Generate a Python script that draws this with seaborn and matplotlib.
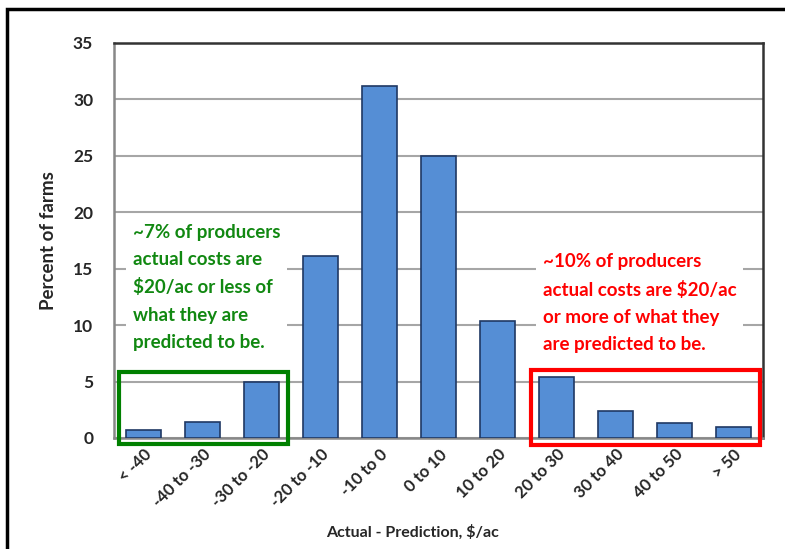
import matplotlib
matplotlib.use("Agg")
import matplotlib.pyplot as plt
import matplotlib.patches as mpatches
import seaborn as sns
import pandas as pd

# Distribution of (actual - predicted) cost per acre
categories = ["< -40", "-40 to -30", "-30 to -20", "-20 to -10", "-10 to 0",
              "0 to 10", "10 to 20", "20 to 30", "30 to 40", "40 to 50", "> 50"]
percent_farms = [0.7, 1.4, 5.0, 16.1, 31.2, 25.0, 10.4, 5.4, 2.4, 1.3, 1.0]
y_ticks = [0, 5, 10, 15, 20, 25, 30, 35]

low_note = "~7% of producers\nactual costs are\n$20/ac or less of\nwhat they are\npredicted to be."
high_note = "~10% of producers\nactual costs are $20/ac\nor more of what they\nare predicted to be."

sns.set_style("white")
plt.rcParams["font.family"] = ["Lato", "DejaVu Sans"]

df = pd.DataFrame({"range": categories, "pct": percent_farms})

fig = plt.figure(figsize=(7.85, 5.49), dpi=100)
ax = fig.add_axes([0.1452, 0.2022, 0.8268, 0.7195])

sns.barplot(data=df, x="range", y="pct", order=categories, color="#558ED5",
            saturation=1, width=0.6, edgecolor="#1F3864", linewidth=1.2, ax=ax,
            zorder=3)

ax.set_xlim(-0.5, len(categories) - 0.5)
ax.set_ylim(0, 35)
ax.set_yticks(y_ticks)
ax.yaxis.grid(True, color="#A6A6A6", linewidth=1.5, zorder=0)
ax.set_axisbelow(True)
ax.tick_params(axis="both", length=0)
ax.tick_params(axis="y", pad=15)
ax.tick_params(axis="x", pad=6)

for lbl in ax.get_yticklabels():
    lbl.set_fontweight("bold")
    lbl.set_fontsize(12.5)
ax.set_xticks(range(len(categories)))
ax.set_xticklabels(categories, rotation=45, ha="right", rotation_mode="anchor",
                   fontsize=12, fontweight="bold")

ax.set_xlabel("Actual - Prediction, $/ac", fontsize=11.5, fontweight="bold")
ax.xaxis.set_label_coords(0.46, -0.218)
ax.set_ylabel("Percent of farms", fontsize=13.5, fontweight="bold")
ax.yaxis.set_label_coords(-0.088, 0.5)

for side in ("left", "bottom"):
    ax.spines[side].set_color("#888888")
    ax.spines[side].set_linewidth(1.8)
for side in ("top", "right"):
    ax.spines[side].set_color("#333333")
    ax.spines[side].set_linewidth(1.8)

# Annotations with white backgrounds
ax.text(-0.18, 19.0, low_note, color="#118811", fontsize=13.5, fontweight="bold",
        va="top", ha="left", linespacing=1.72, zorder=2,
        bbox=dict(facecolor="white", edgecolor="none", pad=5))
ax.text(6.77, 16.4, high_note, color="#FF0000", fontsize=13.5, fontweight="bold",
        va="top", ha="left", linespacing=1.72, zorder=2,
        bbox=dict(facecolor="white", edgecolor="none", pad=5))

# Highlight boxes around the tails
ax.add_patch(mpatches.Rectangle((-0.415, -0.53), 2.865, 6.38, fill=False,
                                edgecolor="#008000", linewidth=3, clip_on=False,
                                zorder=5))
ax.add_patch(mpatches.Rectangle((6.57, -0.62), 3.88, 6.64, fill=False,
                                edgecolor="#FF0000", linewidth=3, clip_on=False,
                                zorder=5))

# Outer chart frame
fig.patches.append(mpatches.Rectangle((7 / 785, -0.1), 1.2, 1 - 9 / 549 + 0.1,
                                      transform=fig.transFigure, fill=False,
                                      edgecolor="black", linewidth=2.5))

fig.savefig("out.png", dpi=100)
